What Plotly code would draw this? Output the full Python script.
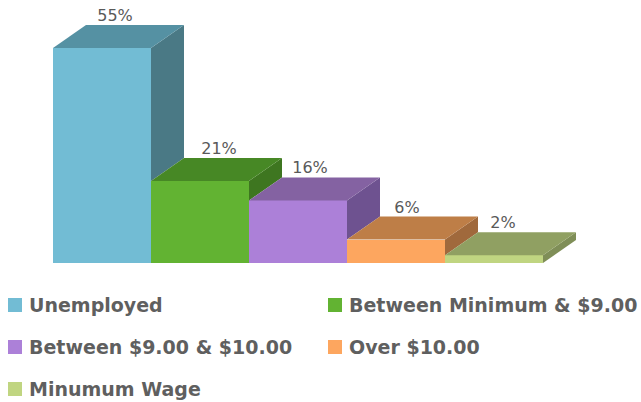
import plotly.graph_objects as go

categories = ["Unemployed", "Between Minimum & $9.00", "Between $9.00 & $10.00", "Over $10.00", "Minumum Wage"]
values = [55, 21, 16, 6, 2]
labels = ["55%", "21%", "16%", "6%", "2%"]
front_colors = ["#72BCD4", "#62B332", "#AC80D8", "#FDA65F", "#C0D581"]
top_colors = ["#5591A3", "#478825", "#8462A2", "#BE7E47", "#90A062"]
side_colors = ["#4A7985", "#3E7620", "#6E5290", "#A0693C", "#7F8E57"]

PX_X = 98      # pixels per category
PX_Y = 3.91    # pixels per percent
DX = 33 / PX_X  # oblique depth of the pseudo-3D boxes, in axis units
DY = 23 / PX_Y
label_dx = [13, 19, 12, 11, 9]  # horizontal nudge of each value label, px

W, H = 641, 402
fig = go.Figure()
for i, (c, v, col) in enumerate(zip(categories, values, front_colors)):
    fig.add_trace(go.Bar(x=[i], y=[v], width=1, name=c, marker=dict(color=col, line=dict(width=0)),
                         hoverinfo="name+y", showlegend=False))

for i, v in enumerate(values):
    next_v = values[i + 1] if i + 1 < len(values) else 0
    l, r = i - 0.5, i + 0.5
    fig.add_trace(go.Scatter(x=[r, r + DX, r + DX, r, r], y=[v, v + DY, next_v + DY, next_v, v],
                             mode="lines", fill="toself", fillcolor=side_colors[i], line=dict(width=0),
                             showlegend=False, hoverinfo="skip"))
    fig.add_trace(go.Scatter(x=[l, l + DX, r + DX, r, l], y=[v, v + DY, v + DY, v, v],
                             mode="lines", fill="toself", fillcolor=top_colors[i], line=dict(width=0),
                             showlegend=False, hoverinfo="skip"))

fig.add_trace(go.Scatter(x=[i + d / PX_X for i, d in enumerate(label_dx)],
                         y=[v + DY + 8 / PX_Y for v in values],
                         mode="text", text=labels, textposition="middle center",
                         textfont=dict(family="DejaVu Sans", size=16, color="#595959"),
                         showlegend=False, hoverinfo="skip"))

# two-column legend, laid out in page pixels
legend_x = [8, 328, 8, 328, 8]
legend_y = [305, 305, 347, 347, 389]
SW = 14
shapes, annotations = [], []
for c, col, lx, ly in zip(categories, front_colors, legend_x, legend_y):
    shapes.append(dict(type="rect", xref="paper", yref="paper",
                       x0=(lx - 53) / (W - 53 - 65), x1=(lx + SW - 53) / (W - 53 - 65),
                       y0=(263 - ly + SW / 2) / 263, y1=(263 - ly - SW / 2) / 263,
                       fillcolor=col, line=dict(width=0)))
    annotations.append(dict(text=c, xref="paper", yref="paper", showarrow=False,
                            x=(lx + 19 - 53) / (W - 53 - 65), xanchor="left",
                            y=(263 - ly) / 263, yanchor="middle",
                            font=dict(family="DejaVu Sans", size=19, color="#5F5F5F", weight="bold")))

fig.update_layout(
    width=W, height=H, autosize=False,
    margin=dict(l=53, r=65, t=0, b=139, autoexpand=False),
    paper_bgcolor="white", plot_bgcolor="white",
    barmode="overlay", bargap=0, showlegend=False,
    xaxis=dict(range=[-0.5, 4.5 + DX], visible=False, fixedrange=True),
    yaxis=dict(range=[0, 263 / PX_Y], visible=False, fixedrange=True),
    shapes=shapes, annotations=annotations,
)
fig.write_html("out.html", config={"displayModeBar": False},
               post_script="document.body.style.margin='0';")
